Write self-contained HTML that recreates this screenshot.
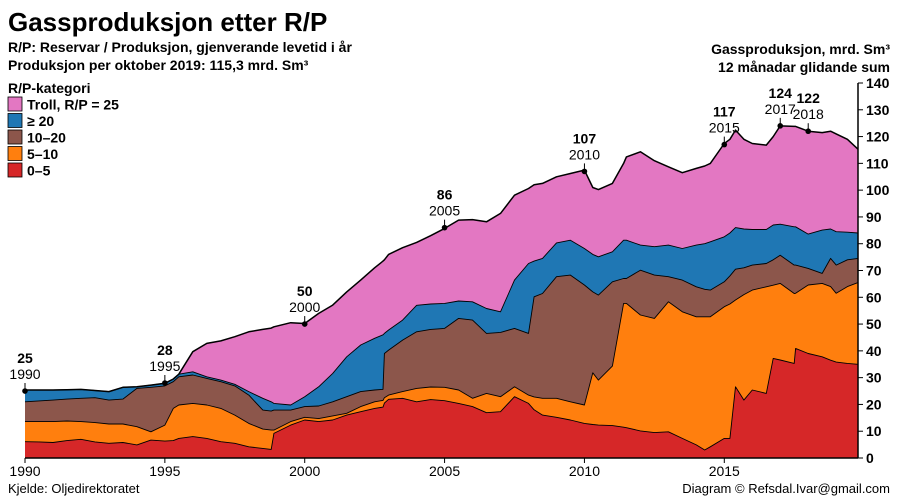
<!DOCTYPE html>
<html><head><meta charset="utf-8"><style>
body{margin:0;background:#fff;font-family:"Liberation Sans",sans-serif}
svg{display:block}
</style></head><body>
<svg id="chart" width="900" height="500" xmlns="http://www.w3.org/2000/svg">
<text x="8" y="31" font-size="26" font-weight="bold">Gassproduksjon etter R/P</text>
<text x="8" y="52" font-size="14" font-weight="bold">R/P: Reservar / Produksjon, gjenverande levetid i år</text>
<text x="8" y="70" font-size="14" font-weight="bold">Produksjon per oktober 2019: 115,3 mrd. Sm³</text>
<text x="890" y="54" font-size="14" font-weight="bold" text-anchor="end">Gassproduksjon, mrd. Sm³</text>
<text x="890" y="72" font-size="14" font-weight="bold" text-anchor="end">12 månadar glidande sum</text>
<text x="8" y="93" font-size="14" font-weight="bold">R/P-kategori</text>
<g id="legend"></g>
<g id="areas"></g>
<g id="axes"></g>
<g id="annots"></g>
<text x="8" y="493" font-size="13">Kjelde: Oljedirektoratet</text>
<text x="890" y="493" font-size="13" text-anchor="end">Diagram © Refsdal.Ivar@gmail.com</text>
</svg>
<script>
const dates=[1990.0,1990.5,1991.0,1991.5,1992.0,1992.5,1993.0,1993.5,1994.0,1994.5,1995.0,1995.3,1995.5,1996.0,1996.5,1997.0,1997.5,1998.0,1998.5,1998.8,1998.9,1999.5,2000.0,2000.5,2001.0,2001.5,2002.0,2002.5,2002.8,2002.85,2003.0,2003.5,2004.0,2004.5,2005.0,2005.5,2006.0,2006.5,2007.0,2007.5,2008.0,2008.2,2008.5,2009.0,2009.5,2010.0,2010.3,2010.5,2011.0,2011.4,2011.5,2012.0,2012.5,2013.0,2013.5,2014.0,2014.3,2014.5,2015.0,2015.2,2015.4,2015.7,2016.0,2016.5,2016.75,2017.0,2017.5,2017.55,2018.0,2018.5,2018.8,2019.0,2019.4,2019.78];
const red=[6.1,6.0,5.8,6.5,7.0,6.0,5.5,5.8,4.9,6.7,6.3,6.5,7.3,8.0,7.3,6.1,5.5,4.2,3.6,3.2,9.2,12.3,14.2,13.6,14.2,16.0,17.3,18.5,19.0,20.5,21.9,22.3,21.0,21.8,21.4,20.4,19.2,16.9,17.3,22.9,20.4,18.0,16.0,15.2,14.2,12.9,12.5,12.3,12.1,11.5,11.3,10.1,9.5,9.8,7.3,4.9,3.0,4.2,7.3,7.3,26.6,21.6,25.4,24.1,37.2,36.6,35.3,40.9,39.0,37.8,36.5,35.8,35.3,35.0];
const orange=[7.5,7.6,7.8,7.3,6.6,7.2,7.2,6.9,6.8,3.1,6.0,12.0,12.5,12.4,12.5,12.4,10.5,8.7,7.2,7.2,1.2,1.3,1.0,1.1,1.5,0.7,1.9,2.5,2.5,2.0,1.6,2.5,5.0,4.7,5.0,5.0,3.1,7.2,5.6,3.7,3.1,4.8,6.3,7.1,6.8,6.9,19.3,16.8,22.2,46.2,46.4,43.3,42.6,48.5,47.3,47.8,49.7,48.5,49.2,50.2,32.4,39.4,37.3,39.8,27.3,28.6,26.1,20.6,25.6,27.4,27.5,25.7,28.7,30.5];
const brown=[7.4,7.7,8.0,8.2,8.7,9.3,8.9,9.3,14.3,16.6,14.6,10.0,10.5,10.6,9.9,10.0,10.9,10.6,7.1,7.1,7.5,4.3,4.0,4.7,5.3,6.2,5.6,4.4,4.1,16.5,16.8,19.2,21.1,21.5,22.0,26.7,29.2,22.4,24.0,21.8,23.0,37.4,39.1,45.4,47.3,44.8,30.2,31.7,31.5,9.3,9.3,16.7,16.2,9.4,11.8,11.2,10.3,10.0,9.3,10.5,11.5,10.0,9.3,8.7,9.5,10.5,10.6,10.5,6.2,3.7,10.5,10.5,10.0,9.0];
const blue=[4.4,4.1,3.8,3.5,3.3,2.7,3.2,4.4,0.6,0.8,1.0,1.0,1.0,1.2,0.6,0.6,0.6,1.3,4.4,3.5,2.5,1.9,3.7,7.2,10.6,14.9,17.4,19.3,20.4,7.5,7.5,7.5,9.9,9.5,9.3,6.5,6.8,9.3,7.7,18.0,26.1,13.3,13.1,12.6,13.0,13.6,14.0,14.3,11.2,14.3,14.3,9.4,10.6,11.8,11.8,15.6,17.0,18.0,16.8,16.0,15.5,14.5,13.3,12.7,13.0,11.6,14.3,14.3,12.8,16.2,11.0,12.5,10.3,9.5];
const troll=[0,0,0,0,0,0,0,0,0,0,0,0,0,7.5,12.5,14.6,17.8,22.3,25.7,27.5,28.6,30.7,27.3,27.4,25.5,24.2,24.2,26.3,27.5,27.5,28.2,27.0,23.5,25.5,28.0,30.2,30.7,32.4,36.7,31.7,28.0,28.5,28.0,24.7,24.9,29.3,25.0,25.1,25.5,28.7,31.1,34.8,32.1,29.2,28.3,28.6,29.0,29.3,34.8,35.0,36.4,33.5,32.1,31.5,33.0,36.7,37.5,37.5,38.4,36.4,36.5,36.5,34.7,31.3];
const annYears=[1990,1995,2000,2005,2010,2015,2017,2018];
const annValues=[25,28,50,86,107,117,124,122];
const yTicks=[0,10,20,30,40,50,60,70,80,90,100,110,120,130,140];
const xTicks=[1990,1995,2000,2005,2010,2015];
const legendLabels=["Troll, R/P = 25","≥ 20","10–20","5–10","0–5"];

const NS="http://www.w3.org/2000/svg";
const X0=25,X1=858,Y0=458,Ypx=375/140;
function xs(y){return X0+(y-1990)*(X1-X0)/(2019.78-1990);}
function ys(v){return Y0-v*Ypx;}
function mk(tag,attrs,parent){const e=document.createElementNS(NS,tag);for(const k in attrs)e.setAttribute(k,attrs[k]);parent.appendChild(e);return e;}
const layers=[red,orange,brown,blue,troll];
const colors=["#d62728","#ff7f0e","#8c564b","#1f77b4","#e377c2"];
const names=["area-rp-0-5","area-rp-5-10","area-rp-10-20","area-rp-20-plus","area-troll"];
const areas=document.getElementById('areas');
let base=dates.map(()=>0);
layers.forEach((L,i)=>{
  const top=base.map((b,j)=>b+L[j]);
  let d="M"+dates.map((t,j)=>xs(t).toFixed(1)+","+ys(top[j]).toFixed(1)).join("L");
  for(let j=dates.length-1;j>=0;j--)d+="L"+xs(dates[j]).toFixed(1)+","+ys(base[j]).toFixed(1);
  const p=mk('path',{d:d+"Z",fill:colors[i]},areas);
  
  
  base=top;
});
base=dates.map(()=>0);
layers.forEach((L,i)=>{
  const top=base.map((b,j)=>b+L[j]);
  const l=mk('path',{d:"M"+dates.map((t,j)=>xs(t).toFixed(1)+","+ys(top[j]).toFixed(1)).join("L"),fill:"none",stroke:"#000","stroke-width":i==4?1.5:0.9,"stroke-linejoin":"round"},areas);
  
  
  base=top;
});
const axes=document.getElementById('axes');
const xl=mk('line',{x1:X0,x2:X1,y1:Y0,y2:Y0,stroke:"#000","stroke-width":1.5},axes);


const yl=mk('line',{x1:X1,x2:X1,y1:ys(140),y2:Y0,stroke:"#000","stroke-width":1.5},axes);


yTicks.forEach(v=>{
  const t=mk('line',{x1:X1,x2:X1+5,y1:ys(v),y2:ys(v),stroke:"#000"},axes);
  
  
  const tx=mk('text',{x:X1+8,y:ys(v)+5,"font-size":14,"font-weight":"bold"},axes);
  tx.textContent=v;
  
  
});
xTicks.forEach(v=>{
  const t=mk('line',{x1:xs(v),x2:xs(v),y1:Y0,y2:Y0+5,stroke:"#000"},axes);
  
  
  const tx=mk('text',{x:xs(v),y:Y0+18,"font-size":14,"text-anchor":"middle"},axes);
  tx.textContent=v;
  
  
});
const ann=document.getElementById('annots');
annYears.forEach((yr,i)=>{
  const x=xs(yr),y=ys(annValues[i]);
  const c=mk('circle',{cx:x,cy:y,r:2.8,fill:"#000"},ann);
  
  
  const ln=mk('line',{x1:x,x2:x,y1:y,y2:y-8,stroke:"#000"},ann);
  
  
  const t1=mk('text',{x:x,y:y-28,"font-size":14,"font-weight":"bold","text-anchor":"middle"},ann);
  t1.textContent=annValues[i];
  
  
  const t2=mk('text',{x:x,y:y-12,"font-size":14,"text-anchor":"middle"},ann);
  t2.textContent=yr;
  
  
});
const lg=document.getElementById('legend');
const lgColors=["#e377c2","#1f77b4","#8c564b","#ff7f0e","#d62728"];
legendLabels.forEach((s,i)=>{
  const y=97+i*16.5;
  const r=mk('rect',{x:8,y:y,width:14,height:14,fill:lgColors[i],stroke:"#000","stroke-width":0.8},lg);
  
  
  const t=mk('text',{x:27,y:y+12.5,"font-size":14,"font-weight":"bold"},lg);
  t.textContent=s;
  
  
});
</script>
</body></html>
